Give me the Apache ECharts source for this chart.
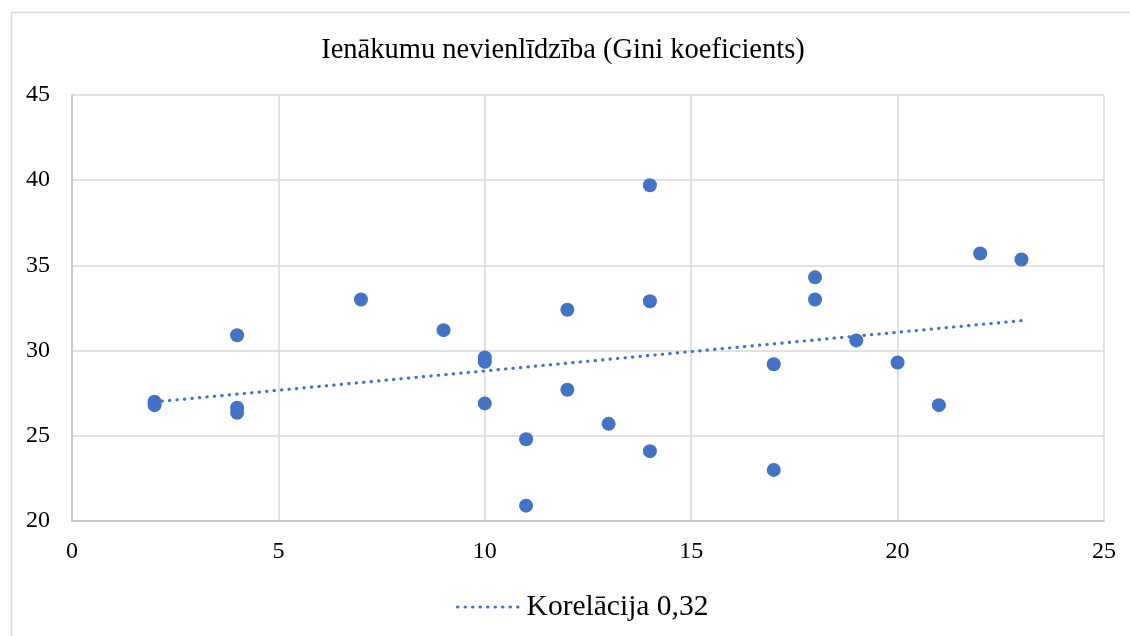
<!DOCTYPE html>
<html>
<head>
<meta charset="utf-8">
<script src="https://cdn.jsdelivr.net/npm/echarts@6/dist/echarts.min.js"></script>
<style>
html,body{margin:0;padding:0;background:#fff;}
#c{width:1130px;height:636px;}
</style>
</head>
<body>
<div id="c"></div>
<script>
const titleText = 'Ienākumu nevienlīdzība (Gini koeficients)';
const trendName = 'Korelācija 0,32';
const xValues = [2, 2, 4, 4, 4, 7, 9, 10, 10, 10, 11, 11, 12, 12, 13, 14, 14, 14, 17, 17, 18, 18, 19, 20, 21, 22, 23];
const yValues = [27.0, 26.8, 30.9, 26.65, 26.35, 33.0, 31.2, 29.6, 29.35, 26.9, 24.8, 20.9, 32.4, 27.7, 25.7, 39.7, 32.9, 24.1, 29.2, 23.0, 34.3, 33.0, 30.6, 29.3, 26.8, 35.7, 35.35];
const xTicks = [0, 5, 10, 15, 20, 25];
const yTicks = [20, 25, 30, 35, 40, 45];

const points = xValues.map((x, i) => [x, yValues[i]]);

// least-squares linear trendline over the data range
const n = xValues.length;
const mx = xValues.reduce((a, b) => a + b, 0) / n;
const my = yValues.reduce((a, b) => a + b, 0) / n;
let sxy = 0, sxx = 0;
for (let i = 0; i < n; i++) { sxy += (xValues[i] - mx) * (yValues[i] - my); sxx += (xValues[i] - mx) ** 2; }
const slope = sxy / sxx;
const intercept = my - slope * mx;
const xmin = Math.min(...xValues), xmax = Math.max(...xValues);
const trend = [[xmin, intercept + slope * xmin], [xmax, intercept + slope * xmax]];

const BLUE = '#4472C4';
const FONT = '"Liberation Serif", "Times New Roman", serif';
const dotted = { color: BLUE, width: 3.2, type: [0.3, 7.2], cap: 'round' };

const chart = echarts.init(document.getElementById('c'), null, { renderer: 'canvas' });
chart.setOption({
  animation: false,
  backgroundColor: '#fff',
  graphic: [{
    type: 'rect', left: 9, top: 10, silent: true,
    shape: { width: 1200, height: 700 },
    style: { fill: 'none', stroke: '#d9d9d9', lineWidth: 1.5 }
  }],
  title: {
    text: titleText, left: 558, top: 31, textAlign: 'center',
    textStyle: { fontFamily: FONT, fontSize: 28.5, fontWeight: 'normal', color: '#000' }
  },
  grid: { left: 72, right: 26, top: 95, bottom: 115, containLabel: false },
  legend: {
    show: true,
    data: [{ name: trendName }], bottom: 9, left: 451,
    itemWidth: 64, itemHeight: 14, itemGap: 10,
    textStyle: { fontFamily: FONT, fontSize: 29.5, color: '#000' },
    itemStyle: { opacity: 0 },
    lineStyle: Object.assign({ opacity: 1 }, dotted)
  },
  xAxis: {
    type: 'value', min: 0, max: 25, interval: 5,
    axisLine: { show: true, lineStyle: { color: '#bfbfbf', width: 1.5 } },
    axisTick: { show: false },
    splitLine: { show: true, lineStyle: { color: '#d9d9d9', width: 1.5 } },
    axisLabel: { fontFamily: FONT, fontSize: 24, color: '#000', margin: 19,
      formatter: v => xTicks.includes(v) ? String(v) : '' }
  },
  yAxis: {
    type: 'value', min: 20, max: 45, interval: 5,
    axisLine: { show: true, lineStyle: { color: '#bfbfbf', width: 1.5 } },
    axisTick: { show: false },
    splitLine: { show: true, lineStyle: { color: '#d9d9d9', width: 1.5 } },
    axisLabel: { fontFamily: FONT, fontSize: 24, color: '#000', margin: 22,
      formatter: v => yTicks.includes(v) ? String(v) : '' }
  },
  series: [
    {
      type: 'scatter', name: 'Gini', data: points,
      symbol: 'circle', symbolSize: 14,
      itemStyle: { color: BLUE, opacity: 1 }, z: 3
    },
    {
      type: 'line', name: trendName, data: trend,
      symbol: 'none', showSymbol: false,
      lineStyle: dotted, itemStyle: { color: BLUE }, z: 4
    }
  ]
});
</script>
</body>
</html>
